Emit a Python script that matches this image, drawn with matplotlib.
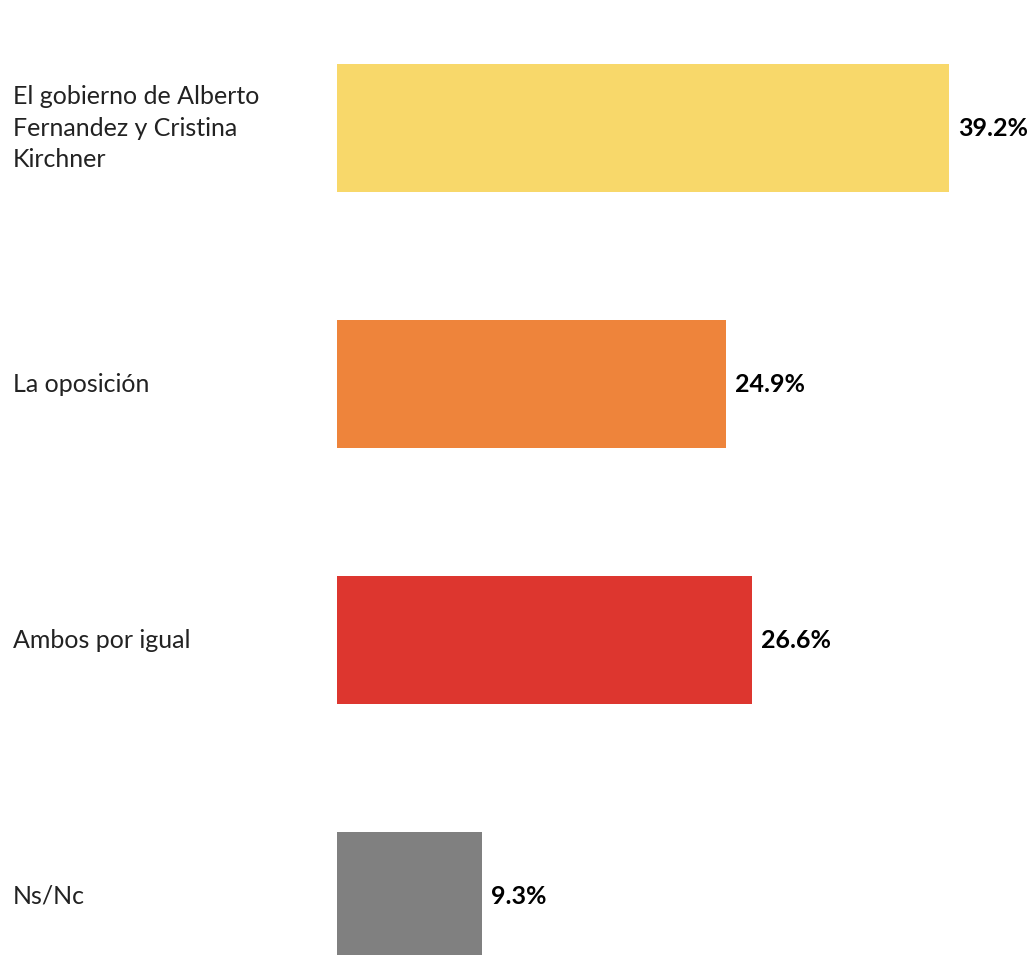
import matplotlib
matplotlib.use("Agg")
import matplotlib.pyplot as plt

categories = [
    "El gobierno de Alberto\nFernandez y Cristina\nKirchner",
    "La oposición",
    "Ambos por igual",
    "Ns/Nc",
]
values = [39.2, 24.9, 26.6, 9.3]
colors = ["#F8D86A", "#EE843B", "#DD362F", "#808080"]

W, H = 1034, 955
fig = plt.figure(figsize=(W / 100, H / 100), dpi=100)
plt.rcParams["font.family"] = ["Lato", "DejaVu Sans"]

# axes spans 0..1024 px vertically (last bar is cut by the figure edge)
left, top, span = 337, 0, 1024
ax = fig.add_axes([left / W, 1 - (top + span) / H, (W - left) / W, span / H])
ax.set_xlim(0, (W - left) / 15.61)
ax.set_ylim(len(values) - 0.5, -0.5)

ypos = range(len(values))
ax.barh(ypos, values, height=0.5, color=colors)
for y, v in zip(ypos, values):
    ax.annotate(f"{v}%", (v, y), xytext=(6.5, 0), textcoords="offset points",
                va="center", ha="left", fontsize=18, fontweight="bold")
for y, lab in zip(ypos, categories):
    ax.text(13 / W, 1 - (128 + 256 * y) / H, lab, transform=fig.transFigure,
            va="center", ha="left", fontsize=18, linespacing=1.45,
            color="#222222")

ax.axis("off")
fig.savefig("out.png", dpi=100)
